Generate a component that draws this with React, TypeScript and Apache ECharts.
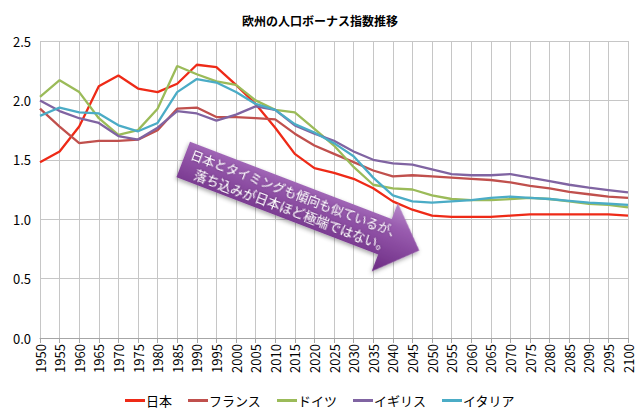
import React, { useEffect, useRef } from "react";
import * as echarts from "echarts";

const years = [
  "1950", "1955", "1960", "1965", "1970", "1975", "1980", "1985", "1990", "1995",
  "2000", "2005", "2010", "2015", "2020", "2025", "2030", "2035", "2040", "2045",
  "2050", "2055", "2060", "2065", "2070", "2075", "2080", "2085", "2090", "2095", "2100",
];

const japan = [
  1.48, 1.57, 1.78, 2.12, 2.21, 2.1, 2.07, 2.14, 2.3, 2.28,
  2.13, 1.97, 1.77, 1.55, 1.43, 1.39, 1.34, 1.26, 1.15, 1.08,
  1.03, 1.02, 1.02, 1.02, 1.03, 1.04, 1.04, 1.04, 1.04, 1.04, 1.03,
];
const france = [
  1.93, 1.78, 1.64, 1.66, 1.66, 1.67, 1.75, 1.93, 1.94, 1.86,
  1.86, 1.85, 1.84, 1.72, 1.62, 1.55, 1.48, 1.41, 1.36, 1.37,
  1.36, 1.35, 1.34, 1.33, 1.31, 1.28, 1.26, 1.23, 1.21, 1.19, 1.18,
];
const germany = [
  2.03, 2.17, 2.07, 1.85, 1.71, 1.75, 1.93, 2.29, 2.22, 2.16,
  2.13, 2.0, 1.92, 1.9, 1.76, 1.62, 1.44, 1.29, 1.26, 1.25,
  1.2, 1.17, 1.16, 1.16, 1.17, 1.18, 1.17, 1.15, 1.13, 1.12, 1.1,
];
const uk = [
  2.0, 1.91, 1.85, 1.81, 1.7, 1.67, 1.77, 1.91, 1.89, 1.83,
  1.88, 1.95, 1.92, 1.79, 1.72, 1.66, 1.57, 1.5, 1.47, 1.46,
  1.42, 1.38, 1.37, 1.37, 1.38, 1.35, 1.32, 1.29, 1.265, 1.245, 1.225,
];
const italy = [
  1.87, 1.94, 1.9, 1.89, 1.79, 1.74, 1.81, 2.07, 2.18, 2.15,
  2.07, 1.97, 1.92, 1.8, 1.73, 1.64, 1.53, 1.35, 1.2, 1.15,
  1.14, 1.15, 1.16, 1.18, 1.19, 1.18, 1.17, 1.155, 1.14, 1.13, 1.12,
];

const seriesNames = ["日本", "フランス", "ドイツ", "イギリス", "イタリア"];
const seriesColors = ["#EE2A17", "#C0504D", "#9BBB59", "#8064A2", "#4BACC6"];

const titleText = "欧州の人口ボーナス指数推移";
const noteLines = ["日本とタイミングも傾向も似ているが、", "落ち込みが日本ほど極端ではない。"];

const font = "'Noto Sans CJK JP', 'Noto Sans', sans-serif";

const App = () => {
  const chartContainer = useRef<HTMLDivElement>(null);

  useEffect(() => {
    if (!chartContainer.current) return;
    const chart = echarts.init(chartContainer.current, null, { renderer: "svg" });

    const allData = [japan, france, germany, uk, italy];

    const option: echarts.EChartsOption = {
      animation: false,
      backgroundColor: "#fff",
      textStyle: { fontFamily: font },
      title: {
        text: titleText,
        left: "center",
        top: 9,
        textStyle: { fontSize: 12, fontWeight: "bold", color: "#000", fontFamily: font },
      },
      grid: { left: 40, right: 12, top: 41, bottom: 80 },
      legend: {
        bottom: 6,
        left: "center",
        icon: "rect",
        itemWidth: 20,
        itemHeight: 3,
        itemGap: 16,
        textStyle: { fontSize: 13, color: "#000", fontFamily: font, padding: [0, 0, 0, -4] },
        data: seriesNames,
      },
      xAxis: {
        type: "category",
        data: years,
        boundaryGap: false,
        axisLine: { lineStyle: { color: "#A6A6A6" } },
        axisTick: { show: true, length: 5, interval: 0, lineStyle: { color: "#A6A6A6" } },
        axisLabel: { rotate: 90, interval: 0, fontSize: 13, color: "#000", margin: 6 },
        splitLine: { show: true, interval: 0, lineStyle: { color: "#C6C6C6", width: 1 } },
      },
      yAxis: {
        type: "value",
        min: 0,
        max: 2.5,
        interval: 0.5,
        axisLine: { show: false },
        axisTick: { show: false },
        axisLabel: {
          fontSize: 13,
          color: "#000",
          margin: 9,
          formatter: (v: number) => v.toFixed(1),
        },
        splitLine: { lineStyle: { color: "#C6C6C6", width: 1 } },
      },
      series: seriesNames.map((name, i) => ({
        name,
        type: "line",
        data: allData[i],
        showSymbol: false,
        symbol: "none",
        color: seriesColors[i],
        lineStyle: { width: 2.3, color: seriesColors[i] },
      })),
      graphic: [
        {
          type: "group",
          x: 190,
          y: 141.7,
          z: 100,
          rotation: (-21 * Math.PI) / 180,
          children: [
            {
              type: "polygon",
              z: 100,
              shape: {
                points: [
                  [0, 0],
                  [216, 0],
                  [216, -17],
                  [253, 19.5],
                  [216, 56],
                  [216, 38],
                  [0, 38],
                ],
              },
              style: {
                fill: new echarts.graphic.LinearGradient(0, 0, 0, 1, [
                  { offset: 0, color: "#B88CCB" },
                  { offset: 0.3, color: "#9A5DB0" },
                  { offset: 1, color: "#6B2A82" },
                ]),
                shadowBlur: 4,
                shadowColor: "rgba(0,0,0,0.35)",
                shadowOffsetY: 2,
              },
            },
            {
              type: "text",
              z: 101,
              x: 118,
              y: 11,
              style: {
                text: noteLines[0],
                fill: "#fff",
                font: `12.5px ${font}`,
                align: "center",
                verticalAlign: "middle",
                textShadowColor: "rgba(0,0,0,0.4)",
                textShadowBlur: 2,
              },
            },
            {
              type: "text",
              z: 101,
              x: 120,
              y: 27,
              style: {
                text: noteLines[1],
                fill: "#fff",
                font: `13px ${font}`,
                align: "center",
                verticalAlign: "middle",
                textShadowColor: "rgba(0,0,0,0.4)",
                textShadowBlur: 2,
              },
            },
          ],
        },
      ],
    };

    chart.setOption(option);

    return () => {
      chart.dispose();
    };
  }, []);

  return (
    <div
      ref={chartContainer}
      style={{ position: "fixed", left: 0, top: 0, width: 640, height: 418 }}
    />
  );
};

export default App;
